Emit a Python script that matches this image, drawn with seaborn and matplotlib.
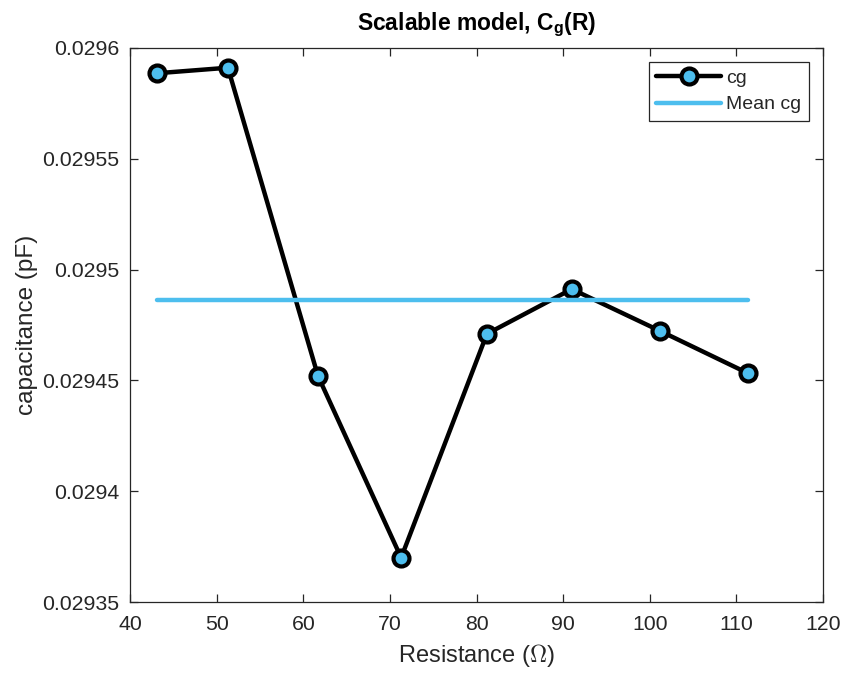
import matplotlib
matplotlib.use("Agg")
import matplotlib.pyplot as plt
import numpy as np
import pandas as pd
import seaborn as sns

# Gate capacitance of the scalable model versus resistance
resistance = [43.1, 51.3, 61.7, 71.3, 81.2, 91.0, 101.2, 111.3]
cg = [0.0295886, 0.0295911, 0.0294520, 0.0293700, 0.0294710, 0.0294912, 0.0294723, 0.0294533]

x_ticks = [40, 50, 60, 70, 80, 90, 100, 110, 120]
y_ticks = [0.02935, 0.0294, 0.02945, 0.0295, 0.02955, 0.0296]
y_tick_labels = ["0.02935", "0.0294", "0.02945", "0.0295", "0.02955", "0.0296"]

df = pd.DataFrame({"R": resistance, "cg": cg})
mean_cg = float(np.mean(cg))
df_mean = pd.DataFrame({"R": [resistance[0], resistance[-1]], "cg": [mean_cg, mean_cg]})

sns.set_style("ticks")
plt.rcParams["font.family"] = ["Liberation Sans", "DejaVu Sans"]
plt.rcParams["mathtext.fontset"] = "custom"
plt.rcParams["mathtext.rm"] = "Liberation Sans"
plt.rcParams["mathtext.bf"] = "Liberation Sans:bold"

axis_color = "#262626"
blue = "#4DBEEE"

fig = plt.figure(figsize=(8.46, 6.75), dpi=100)
ax = fig.add_axes([0.1537, 0.1081, 0.8191, 0.8208])

sns.lineplot(data=df, x="R", y="cg", ax=ax, color="black", linewidth=3.2,
             marker="o", markersize=11.5, markerfacecolor=blue,
             markeredgecolor="black", markeredgewidth=3.0, label="cg")
sns.lineplot(data=df_mean, x="R", y="cg", ax=ax, color=blue, linewidth=3.2,
             label="Mean cg")

ax.set_xlim(40, 120)
ax.set_ylim(0.02935, 0.0296)
ax.set_xticks(x_ticks)
ax.set_yticks(y_ticks)
ax.set_yticklabels(y_tick_labels)

for side in ["top", "bottom", "left", "right"]:
    ax.spines[side].set_visible(True)
    ax.spines[side].set_color(axis_color)
    ax.spines[side].set_linewidth(0.9)

ax.tick_params(axis="both", which="both", direction="in", length=6, width=0.9,
               colors=axis_color, labelsize=15.3, top=True, right=True)
ax.tick_params(axis="x", pad=9)
ax.tick_params(axis="y", pad=7.5)

ax.set_xlabel("Resistance ($\\Omega$)", fontsize=17, color=axis_color,
              labelpad=6, math_fontfamily="cm")
ax.set_ylabel("capacitance (pF)", fontsize=17.5, color=axis_color, labelpad=3)
ax.set_title("Scalable model, C$_\\mathbf{g}$(R)", fontsize=16.5, fontweight="bold",
             color="black", pad=13)

leg = ax.legend(loc="upper right", fontsize=14, frameon=True, fancybox=False,
                edgecolor=axis_color, framealpha=1, borderaxespad=0.7,
                handlelength=3.3, handletextpad=0.3, labelspacing=0.45,
                borderpad=0.4)
leg.get_frame().set_linewidth(0.9)

fig.savefig("out.png", dpi=100)
